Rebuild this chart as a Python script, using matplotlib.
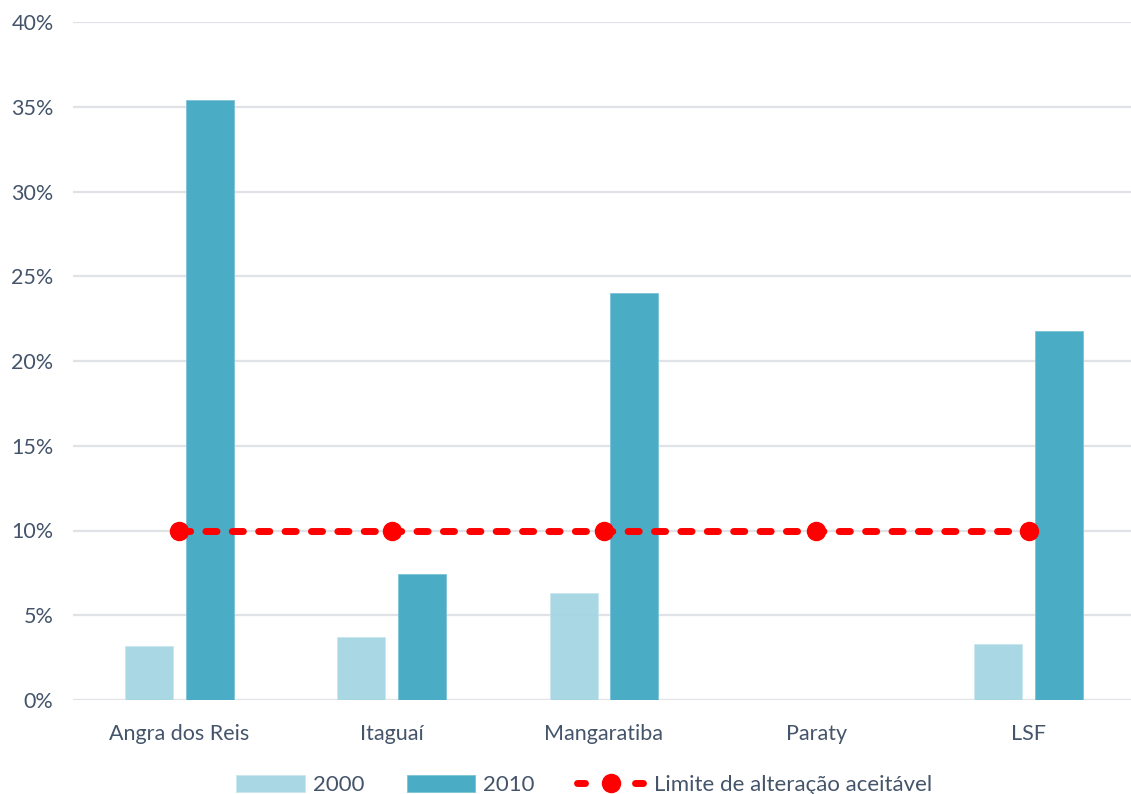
import numpy as np
import matplotlib.pyplot as plt
from matplotlib.lines import Line2D
from matplotlib.ticker import PercentFormatter

# Share of values per municipality, in percent
municipios = ["Angra dos Reis", "Itaguaí", "Mangaratiba", "Paraty", "LSF"]
valores_2000 = [3.19, 3.73, 6.31, 0.0, 3.29]
valores_2010 = [35.4, 7.42, 24.0, 0.0, 21.77]
limite = [10.0, 10.0, 10.0, 10.0, 10.0]

cor_2000 = "#A5D5E2"
cor_2010 = "#4BACC6"
cor_limite = "#FF0000"
cor_texto = "#44546A"
cor_grade = "#DFE3E8"

plt.rcParams["font.family"] = ["Lato", "DejaVu Sans"]

fig = plt.figure(figsize=(11.31, 7.94), dpi=100)
ax = fig.add_axes([73 / 1131, 1 - 700 / 794, (1135 - 73) / 1131, (700 - 22) / 794])

x = np.arange(len(municipios))
largura = 0.226
desloc = 0.143

b1 = ax.bar(x - desloc, valores_2000, largura, color=cor_2000, alpha=0.95,
            edgecolor="#C8E6EE", linewidth=0.6, label="2000", zorder=2)
b2 = ax.bar(x + desloc, valores_2010, largura, color=cor_2010,
            edgecolor="#7CC3D6", linewidth=0.6, label="2010", zorder=2)

ax.plot(x, limite, color=cor_limite, linewidth=5, linestyle=(0, (1.6, 2.2)),
        dash_capstyle="round", marker="o", markersize=13, zorder=3)

# legend sample: one dash on each side of the marker
amostra = Line2D([], [], color=cor_limite, linewidth=5, linestyle=(0, (1.15, 7.2)),
                 dash_capstyle="round", marker="o", markersize=13,
                 label="Limite de alteração aceitável")

ax.set_xlim(-0.5, len(municipios) - 0.5)
ax.set_ylim(0, 40)
ax.set_yticks(np.arange(0, 41, 5))
ax.yaxis.set_major_formatter(PercentFormatter(decimals=0))
ax.set_xticks(x)
ax.set_xticklabels(municipios)

ax.grid(axis="y", color=cor_grade, linewidth=1.6, zorder=0)
ax.set_axisbelow(True)
for lado in ax.spines.values():
    lado.set_visible(False)
ax.tick_params(axis="both", length=0, labelsize=15.5, labelcolor=cor_texto)
ax.tick_params(axis="y", pad=14)
ax.tick_params(axis="x", pad=17)

fig.legend(handles=[b1, b2, amostra], loc="center",
           bbox_to_anchor=(584 / 1131, 1 - 785 / 794),
           ncol=3, frameon=False, fontsize=16, labelcolor=cor_texto,
           handlelength=3.1, handleheight=0.85, handletextpad=0.35, columnspacing=1.9)

fig.savefig("out.png", dpi=100)
